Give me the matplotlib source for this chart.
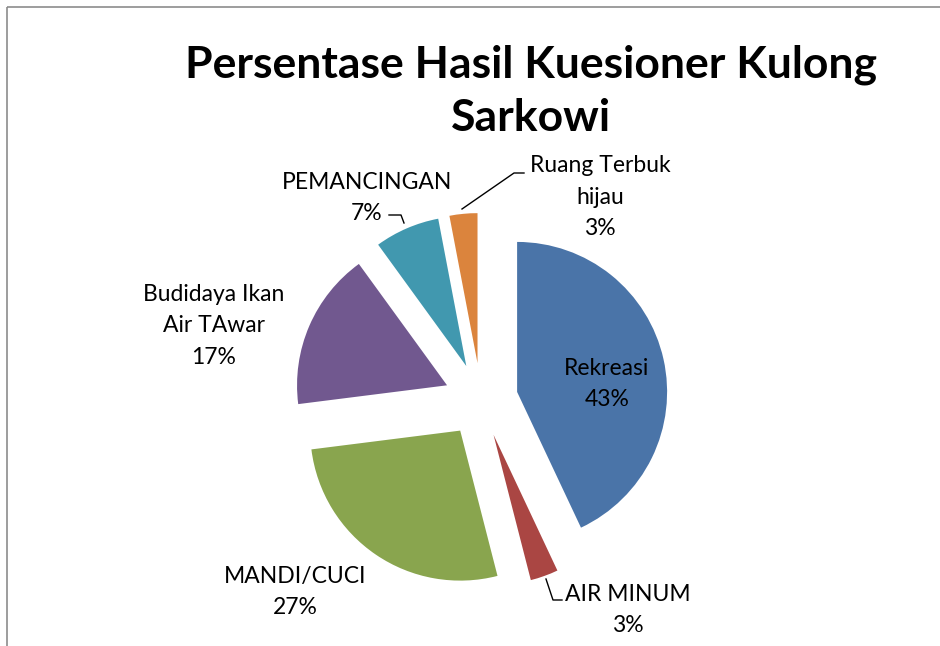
import matplotlib.pyplot as plt
from matplotlib.patches import Rectangle

# data
categories = ["Rekreasi", "AIR MINUM", "MANDI/CUCI",
              "Budidaya Ikan\nAir TAwar", "PEMANCINGAN", "Ruang Terbuk\nhijau"]
values = [43, 3, 27, 17, 7, 3]
colors = ["#4A74A8", "#AA4643", "#89A54E", "#71588F", "#4198AF", "#DB843D"]

W, H = 940, 646
fig = plt.figure(figsize=(W / 100, H / 100), dpi=100)

# pie in pixel space (y up)
pax = fig.add_axes([0, 0, 1, 1])
pax.pie(values, center=(481, H - 400), radius=150, explode=[37] * len(values),
        startangle=90, counterclock=False, colors=colors,
        wedgeprops=dict(linewidth=0))
pax.set_xlim(0, W)
pax.set_ylim(0, H)
pax.set_aspect("auto")
pax.axis("off")

# overlay for text, lines and frame (y down, pixel units)
ax = fig.add_axes([0, 0, 1, 1])
ax.patch.set_alpha(0)
ax.set_xlim(0, W)
ax.set_ylim(H, 0)
ax.axis("off")

# chart frame
ax.add_patch(Rectangle((7, 7), 1000, 1000, fill=False, edgecolor="#8C8C8C", lw=1.2))

font = "Lato"
ax.text(531, 91, "Persentase Hasil Kuesioner Kulong\nSarkowi", ha="center", va="center",
        fontsize=32, fontweight="bold", family=font, linespacing=1.38)

pct = [f"{v}%" for v in values]
kw = dict(fontsize=16.5, family=font, color="black", linespacing=1.6)
ax.text(607, 384, f"{categories[0]}\n{pct[0]}", ha="center", va="center", **kw)
ax.text(628, 610, f"{categories[1]}\n{pct[1]}", ha="center", va="center", **kw)
ax.text(295, 592, f"{categories[2]}\n{pct[2]}", ha="center", va="center", **kw)
ax.text(214, 326, f"{categories[3]}\n{pct[3]}", ha="center", va="center", **kw)
ax.text(367, 198, f"{categories[4]}\n{pct[4]}", ha="center", va="center", **kw)
ax.text(600, 197, f"{categories[5]}\n{pct[5]}", ha="center", va="center", **kw)

# leader lines
ax.plot([546, 553, 562], [579, 600, 600], color="black", lw=1)
ax.plot([389, 401, 404], [215, 215, 223], color="black", lw=1)
ax.plot([462, 514, 524], [209, 173, 173], color="black", lw=1)

fig.savefig("out.png", dpi=100)
